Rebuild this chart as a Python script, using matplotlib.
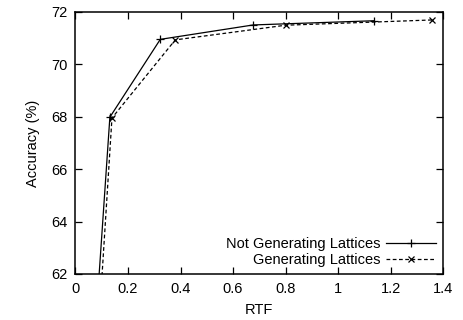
import matplotlib
matplotlib.use("Agg")
import matplotlib.pyplot as plt

plt.rcParams['font.family'] = ['Liberation Sans', 'DejaVu Sans']

# RTF vs accuracy (first point sits below the visible range)
rtf_nolat = [0.080, 0.131, 0.323, 0.677, 1.136]
acc_nolat = [60.5, 67.98, 70.95, 71.5, 71.66]
rtf_lat = [0.092, 0.139, 0.380, 0.801, 1.357]
acc_lat = [60.5, 67.95, 70.93, 71.49, 71.69]

xticks = [0, 0.2, 0.4, 0.6, 0.8, 1, 1.2, 1.4]
xticklabels = ['0', '0.2', '0.4', '0.6', '0.8', '1', '1.2', '1.4']
yticks = [62, 64, 66, 68, 70, 72]

fig = plt.figure(figsize=(4.63, 3.2), dpi=100)
ax = fig.add_axes([0.163, 0.144, 0.794, 0.819])

ax.plot(rtf_nolat, acc_nolat, color='black', linestyle='-', linewidth=0.9,
        marker='+', markersize=6, markeredgewidth=0.9, label='Not Generating Lattices')
ax.plot(rtf_lat, acc_lat, color='black', linestyle=(0, (3, 2)), linewidth=0.9,
        marker='x', markersize=5, markeredgewidth=0.9, label='Generating Lattices')

ax.set_xlim(0, 1.4)
ax.set_ylim(62, 72)
ax.set_xticks(xticks)
ax.set_xticklabels(xticklabels)
ax.set_yticks(yticks)
ax.tick_params(direction='in', top=True, right=True, length=5, width=0.9,
               labelsize=10.5, pad=6)
for s in ax.spines.values():
    s.set_linewidth(1.1)

ax.set_xlabel('RTF', fontsize=10.5, labelpad=5)
ax.set_ylabel('Accuracy (%)', fontsize=10.5, labelpad=8)

ax.legend(loc='lower right', frameon=False, markerfirst=False, numpoints=1,
          fontsize=10.5, handlelength=3.4, labelspacing=0.1,
          borderaxespad=0.3, borderpad=0.2, handletextpad=0.4)

fig.savefig('out.png', dpi=100)
